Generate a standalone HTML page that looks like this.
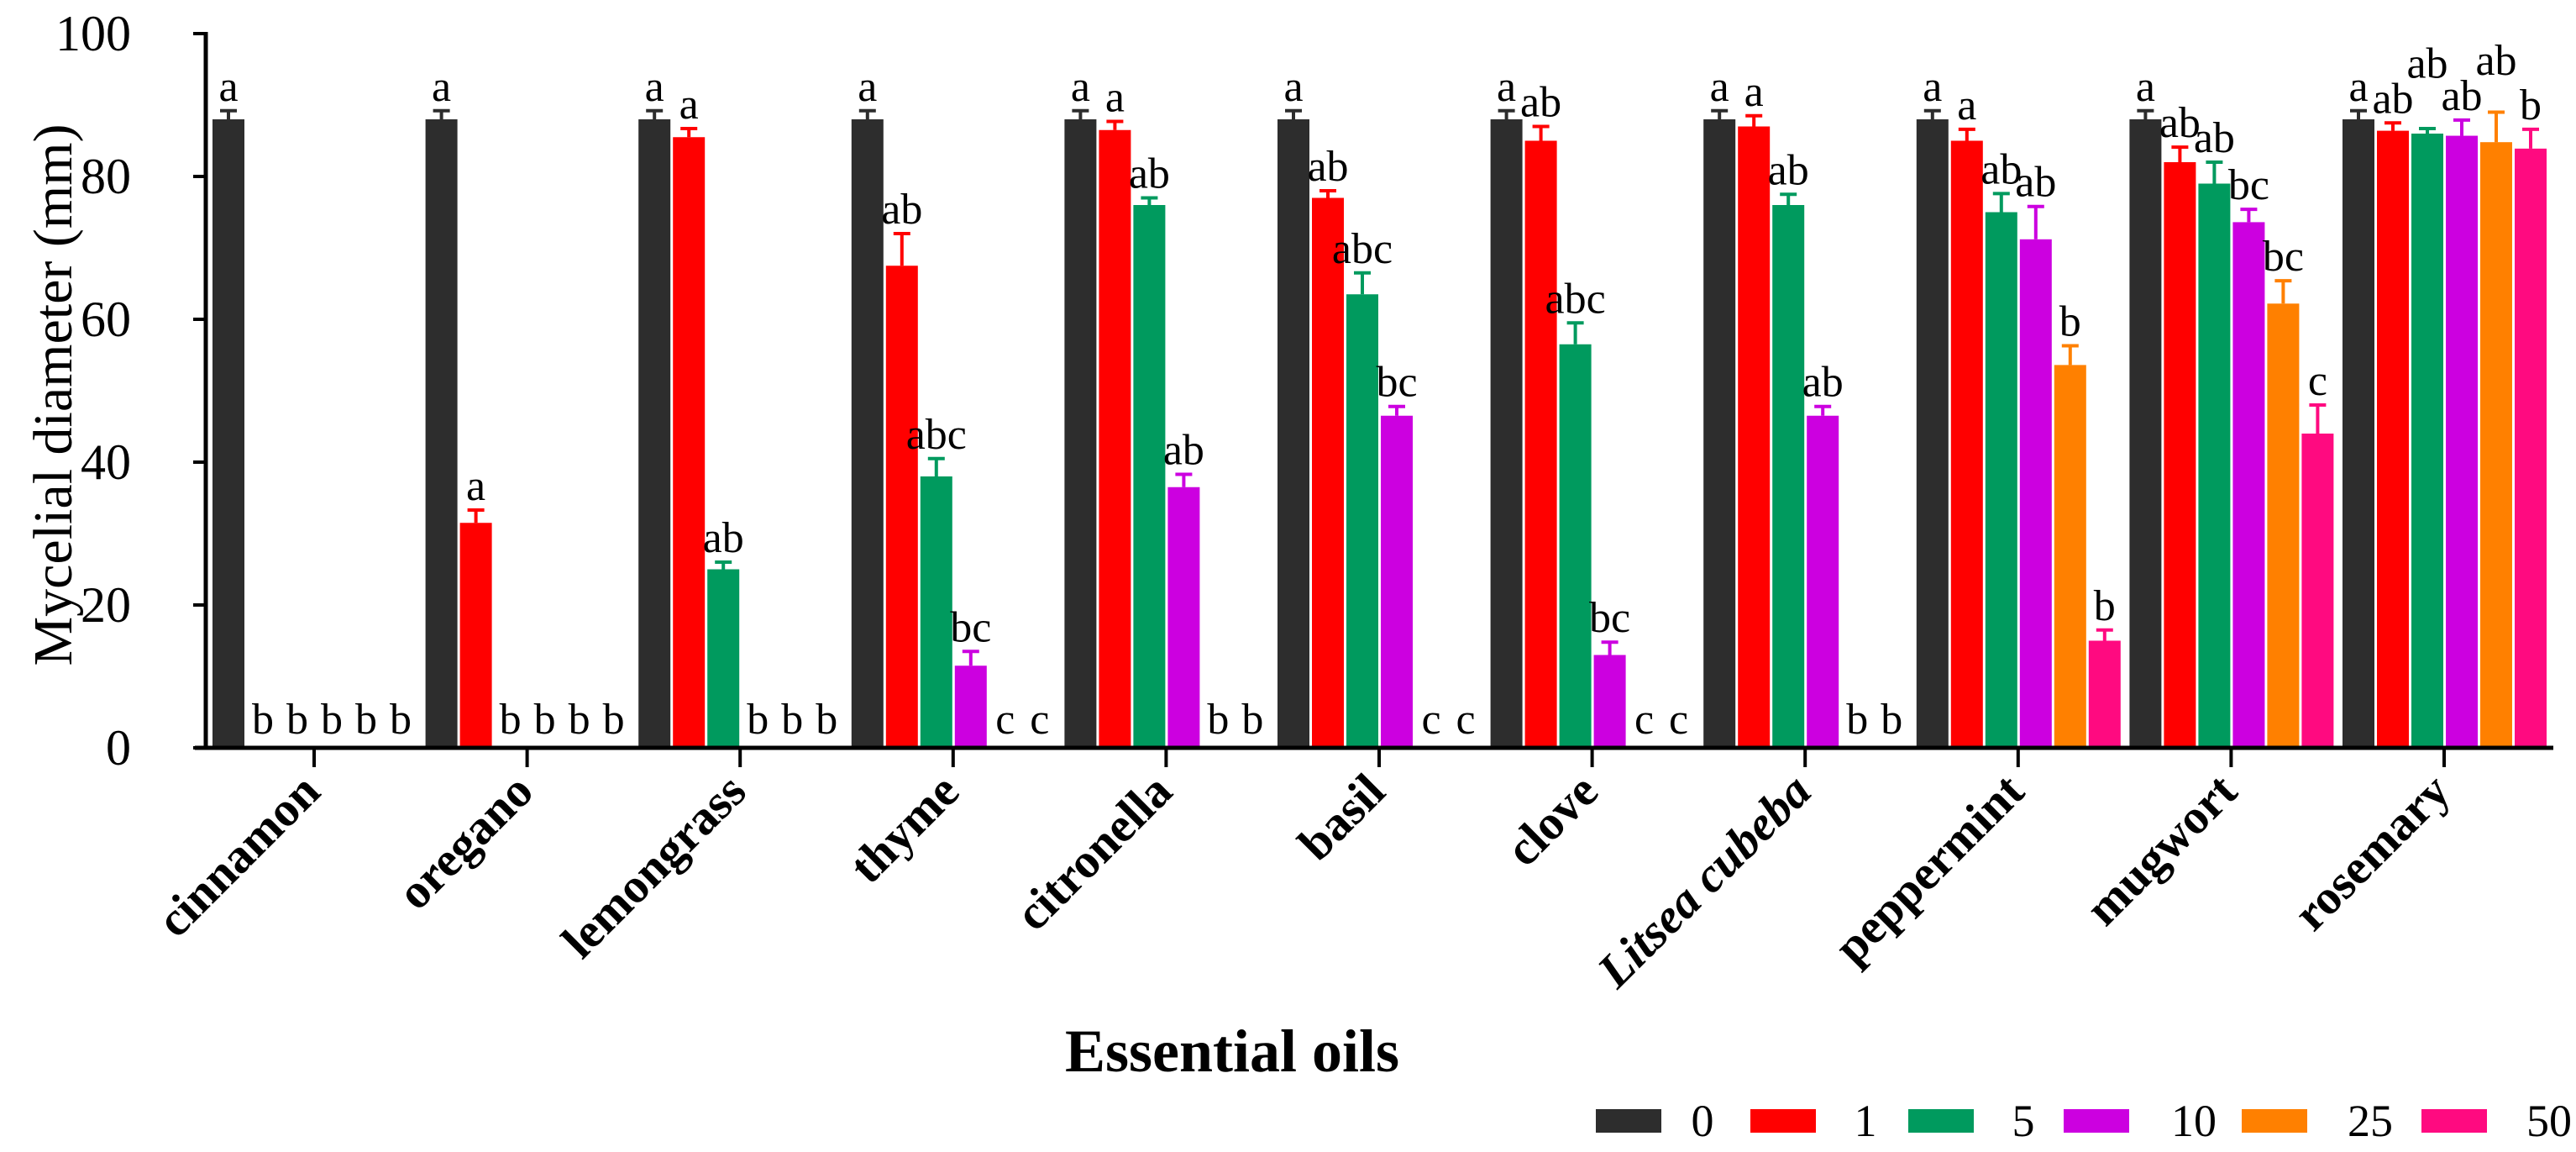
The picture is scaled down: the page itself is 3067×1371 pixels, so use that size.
<!DOCTYPE html>
<html><head><meta charset="utf-8">
<style>
html,body{margin:0;padding:0;background:#fff;}
svg{display:block;font-family:"Liberation Serif",serif;}
</style></head>
<body>
<svg id="chart" width="3067" height="1371" viewBox="0 0 3067 1371" xmlns="http://www.w3.org/2000/svg">
<g id="plot"></g>
</svg>
<script>
const categories = ["cinnamon","oregano","lemongrass","thyme","citronella","basil","clove","Litsea cubeba","peppermint","mugwort","rosemary"];
const seriesNames = ["0","1","5","10","25","50"];
const seriesColors = ["#2d2d2d","#ff0000","#009a5e","#cc00e0","#ff8000","#ff0a80"];
const s0 = [88,88,88,88,88,88,88,88,88,88,88];
const s1 = [0,31.5,85.5,67.5,86.5,77,85,87,85,82,86.4];
const s5 = [0,0,25,38,76,63.5,56.5,76,75,79,86];
const s10 = [0,0,0,11.5,36.5,46.5,13,46.5,71.2,73.6,85.7];
const s25 = [0,0,0,0,0,0,0,0,53.6,62.2,84.8];
const s50 = [0,0,0,0,0,0,0,0,15,44,83.9];
const e0 = [1.2,1.2,1.2,1.2,1.2,1.2,1.2,1.2,1.2,1.2,1.2];
const e1 = [0,1.8,1.2,4.5,1.2,1,2,1.5,1.6,2.1,1.1];
const e5 = [0,0,1,2.5,1,3,3,1.5,2.6,3,0.7];
const e10 = [0,0,0,2,1.8,1.3,1.8,1.3,4.6,1.8,2.2];
const e25 = [0,0,0,0,0,0,0,0,2.7,3.2,4.2];
const e50 = [0,0,0,0,0,0,0,0,1.5,4,2.7];
const l0 = ["a","a","a","a","a","a","a","a","a","a","a"];
const l1 = ["b","a","a","ab","a","ab","ab","a","a","ab","ab"];
const l5 = ["b","b","ab","abc","ab","abc","abc","ab","ab","ab","ab"];
const l10 = ["b","b","b","bc","ab","bc","bc","ab","ab","bc","ab"];
const l25 = ["b","b","b","c","b","c","c","b","b","bc","ab"];
const l50 = ["b","b","b","c","b","c","c","b","b","c","b"];
const yTicks = [0,20,40,60,80,100];

const values=[s0,s1,s5,s10,s25,s50], errs=[e0,e1,e5,e10,e25,e50], lets=[l0,l1,l5,l10,l25,l50];
const NS="http://www.w3.org/2000/svg";
const g=document.getElementById('plot');
function mk(t,a,txt){const e=document.createElementNS(NS,t);for(const k in a)e.setAttribute(k,a[k]);if(txt!==undefined)e.textContent=txt;g.appendChild(e);return e;}
const Y0=890, Y100=40;
function y(v){return Y0-(Y0-Y100)*v/100;}
const gx0=253, gstep=253.6, bstep=41, bw=38;
function bx(gi,si){return gx0+gi*gstep+si*bstep;}

categories.forEach((c,gi)=>{
  let prev=null;
  for(let si=0;si<6;si++){
    const v=values[si][gi], er=errs[si][gi], col=seriesColors[si];
    const x=bx(gi,si);
    if(v>0){
      const r=mk('rect',{x:x,y:y(v),width:bw,height:Y0-y(v),fill:col});
      
      
      const cx=x+bw/2;
      const el=mk('path',{d:`M${cx} ${y(v)}V${y(v+er)}M${cx-10} ${y(v+er)}H${cx+10}`,stroke:col,'stroke-width':4,fill:'none'});
      
      
    }
    const txt=lets[si][gi];
    const cx=x+bw/2;
    let ly = v>0 ? y(v+er)-12 : 873;
    const w=txt.length*25;
    if(prev && v>0 && prev.right>cx-w/2 && Math.abs(prev.y-ly)<12){ ly=prev.y-42; }
    const t=mk('text',{x:cx,y:ly,'font-size':52,'text-anchor':'middle',fill:'#000'},txt);
    
    
    prev={right:cx+w/2,y:ly};
  }
  const tx=gx0+gi*gstep+3*bstep-2;
  const tk=mk('line',{x1:tx,y1:Y0,x2:tx,y2:913,stroke:'#000','stroke-width':4});
  
  
  const lab=mk('text',{x:tx+10,y:945,'font-size':58,'font-weight':'bold','text-anchor':'end',transform:`rotate(-45 ${tx+10} 945)`,'font-style':c==='Litsea cubeba'?'italic':'normal'},c);
  
  
});

const ax=mk('path',{d:`M245 ${Y100-2}V${Y0+2}M232 ${Y0}H3040`,stroke:'#000','stroke-width':5,fill:'none'});


yTicks.forEach(v=>{
  const l=mk('line',{x1:230,y1:y(v),x2:245,y2:y(v),stroke:'#000','stroke-width':4});
  
  
  const t=mk('text',{x:156,y:y(v)+20,'font-size':60,'text-anchor':'end'},String(v));
  
  
});
const yt=mk('text',{x:85,y:470,'font-size':66,'text-anchor':'middle',transform:'rotate(-90 85 470)'},'Mycelial diameter (mm)');


const xt=mk('text',{x:1467,y:1275,'font-size':72,'font-weight':'bold','text-anchor':'middle'},'Essential oils');



const legSw=[1900,2084,2272,2457,2669,2883];
const legTx=[2027,2221,2409,2612,2822,3035];
seriesNames.forEach((n,i)=>{
  const r=mk('rect',{x:legSw[i],y:1320,width:78,height:28,fill:seriesColors[i]});
  
  
  const t=mk('text',{x:legTx[i],y:1352,'font-size':54,'text-anchor':'middle'},n);
  
  
});
</script>
</body></html>
